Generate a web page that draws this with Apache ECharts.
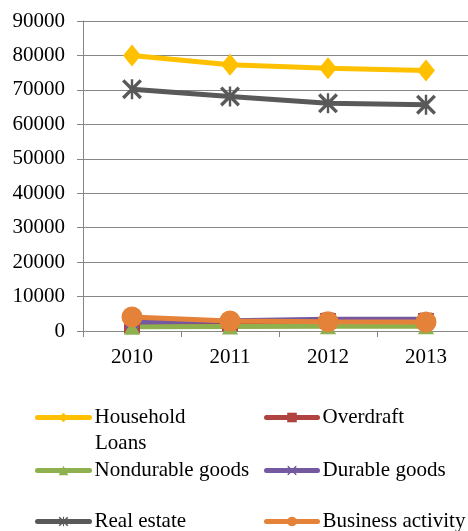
<!DOCTYPE html>
<html>
<head>
<meta charset="utf-8">
<script src="https://cdn.jsdelivr.net/npm/echarts@6/dist/echarts.min.js"></script>
<style>
html,body{margin:0;padding:0;background:#fff;}
#chart{width:468px;height:531px;}
</style>
</head>
<body>
<div id="chart"></div>
<script>
var years = ['2010', '2011', '2012', '2013'];
var householdLoans = [80000, 77300, 76300, 75600];
var overdraft = [1600, 2200, 2900, 2900];
var nondurableGoods = [1200, 1300, 1400, 1400];
var durableGoods = [2600, 3000, 3400, 3400];
var realEstate = [70200, 68100, 66100, 65700];
var businessActivity = [4100, 2900, 2700, 2600];
var yTicks = [0, 10000, 20000, 30000, 40000, 50000, 60000, 70000, 80000, 90000];

var FONT = 'Liberation Serif';
var xPath = 'path://M0,1.2 L1.2,0 L10,8.8 L8.8,10 Z M8.8,0 L10,1.2 L1.2,10 L0,8.8 Z';
var starPath = 'path://M0,1.2 L1.2,0 L10,8.8 L8.8,10 Z M8.8,0 L10,1.2 L1.2,10 L0,8.8 Z M4.4,0 L5.6,0 L5.6,10 L4.4,10 Z';

function mk(name, data, color, symbol, size) {
  return {
    name: name, type: 'line', data: data, symbol: symbol, symbolSize: size,
    lineStyle: {color: color, width: 5},
    itemStyle: {color: color},
    emphasis: {disabled: true},
    animation: false
  };
}
var series = [
  mk('Household Loans', householdLoans, '#FFC000', 'diamond', [18, 22]),
  mk('Overdraft', overdraft, '#B04340', 'rect', 16),
  mk('Nondurable goods', nondurableGoods, '#8FB04F', 'triangle', 16),
  mk('Durable goods', durableGoods, '#7559A0', xPath, 14),
  mk('Real estate', realEstate, '#595959', starPath, 20),
  mk('Business activity', businessActivity, '#E5823A', 'circle', 21)
];

function lg(name, left, top, w, label) {
  return {
    data: [name], left: left, top: top, orient: 'horizontal',
    itemWidth: w, itemHeight: 12, itemGap: 0, padding: 0,
    selectedMode: false,
    lineStyle: {width: 5, cap: 'round'},
    formatter: label ? function(){return label;} : undefined,
    textStyle: {fontFamily: FONT, fontSize: 21, color: '#000'}
  };
}

var chart = echarts.init(document.getElementById('chart'));
chart.setOption({
  animation: false,
  grid: {left: 83, top: 21, width: 392, bottom: 200, outerBoundsMode: 'none'},
  xAxis: {
    type: 'category', data: years, boundaryGap: true,
    axisLine: {lineStyle: {color: '#868686', width: 1}},
    axisTick: {show: true, length: 6, lineStyle: {color: '#868686'}},
    axisLabel: {fontFamily: FONT, fontSize: 21, color: '#000', margin: 16}
  },
  yAxis: {
    type: 'value', min: 0, max: 90000, interval: 10000,
    axisLine: {show: true, lineStyle: {color: '#868686', width: 1}},
    axisTick: {show: true, length: 6, lineStyle: {color: '#868686'}},
    splitLine: {lineStyle: {color: '#868686', width: 1}},
    axisLabel: {fontFamily: FONT, fontSize: 21, color: '#000', margin: 18,
      formatter: function(v){ return yTicks.indexOf(v) >= 0 ? String(v) : ''; }}
  },
  legend: [
    lg('Household Loans', 35, 407, 52, 'Household'),
    lg('Overdraft', 264, 407, 51),
    lg('Nondurable goods', 35, 460, 52),
    lg('Durable goods', 264, 460, 51),
    lg('Real estate', 35, 511, 52),
    lg('Business activity', 264, 511, 51)
  ],
  graphic: [{
    type: 'text', left: 95, top: 433,
    style: {text: 'Loans', font: '21px "Liberation Serif"', fill: '#000'}
  }],
  series: series
});
</script>
</body>
</html>
